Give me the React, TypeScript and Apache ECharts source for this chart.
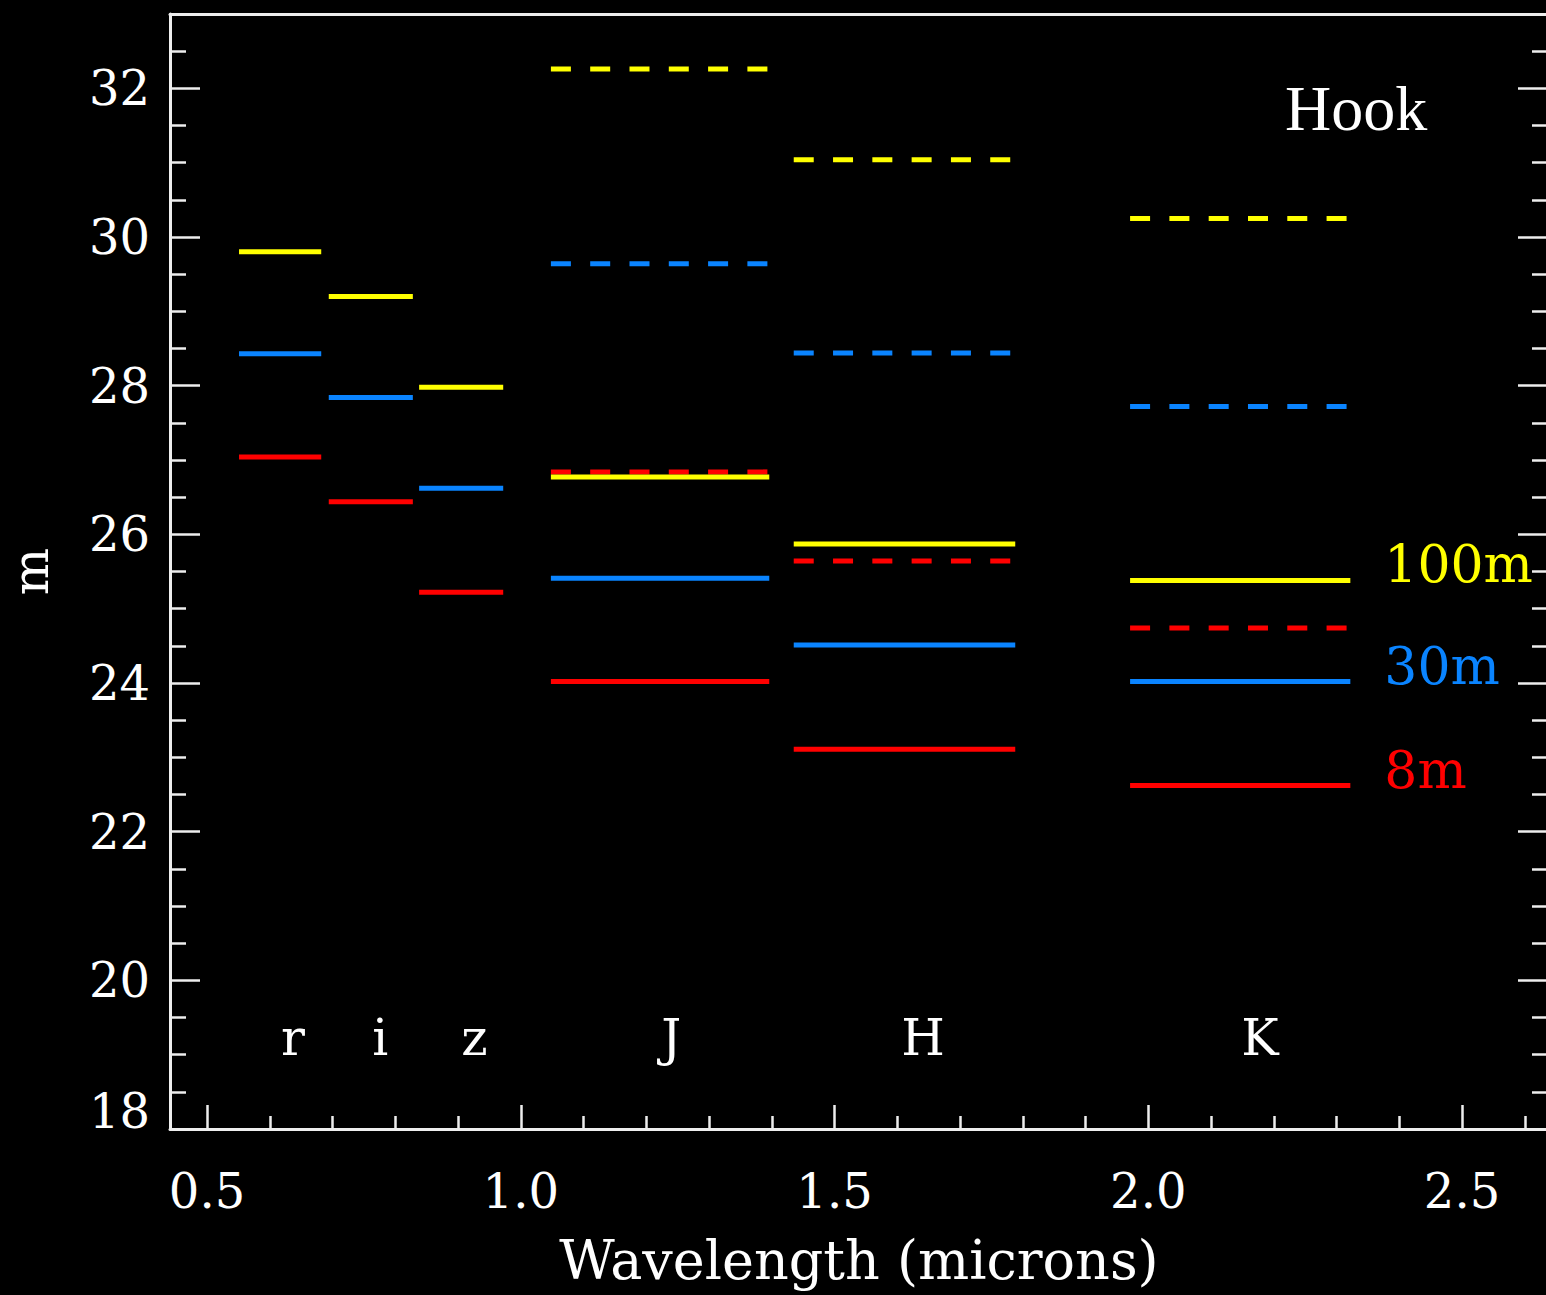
import React, { useEffect, useRef } from 'react';
import * as echarts from 'echarts';

// Photometric bands
const bands = ['r', 'i', 'z', 'J', 'H', 'K'];
const bandStart = [0.551, 0.694, 0.838, 1.048, 1.435, 1.971];
const bandEnd = [0.682, 0.828, 0.972, 1.396, 1.788, 2.322];
const bandLabelX = [0.637, 0.776, 0.926, 1.24, 1.641, 2.178];
const bandLabelY = 19.23;

// Telescopes
const telescopes = ['8m', '30m', '100m'];
const telescopeColors = ['#ff0000', '#0a84ff', '#ffff00'];

// Solid lines (limiting magnitude, one per band)
const solid8m = [27.04, 26.44, 25.22, 24.02, 23.11, 22.62];
const solid30m = [28.43, 27.84, 26.62, 25.41, 24.51, 24.02];
const solid100m = [29.8, 29.2, 27.98, 26.77, 25.87, 25.38];

// Dashed lines (J, H, K only)
const dashed8m = [null, null, null, 26.84, 25.64, 24.74];
const dashed30m = [null, null, null, 29.64, 28.44, 27.72];
const dashed100m = [null, null, null, 32.26, 31.04, 30.25];

// Axis ticks
const xMajorTicks = [0.5, 1.0, 1.5, 2.0, 2.5];
const xMinorTicks = [0.6, 0.7, 0.8, 0.9, 1.1, 1.2, 1.3, 1.4, 1.6, 1.7, 1.8, 1.9, 2.1, 2.2, 2.3, 2.4, 2.6];
const yMajorTicks = [18, 20, 22, 24, 26, 28, 30, 32];
const yMinorTicks = [18.5, 19, 19.5, 20.5, 21, 21.5, 22.5, 23, 23.5, 24.5, 25, 25.5, 26.5, 27, 27.5, 28.5, 29, 29.5, 30.5, 31, 31.5, 32.5];

const X_MIN = 0.441;
const X_MAX = 2.637;
const Y_MIN = 18;
const Y_MAX = 33;

const FONT = 'DejaVu Serif';
const AXIS_COLOR = '#eeeeee';

function buildSeries() {
  const out: any[] = [];
  const dashedSets = [dashed8m, dashed30m, dashed100m];
  const solidSets = [solid8m, solid30m, solid100m];
  const make = (b: number, v: number, t: number, dashed: boolean) => {
    const isEnd = !dashed && b === bands.length - 1;
    const s: any = {
      type: 'line',
      name: telescopes[t] + ' ' + bands[b] + (dashed ? ' dashed' : ''),
      xAxisIndex: 0,
      yAxisIndex: 0,
      data: [
        [bandStart[b], v],
        [bandEnd[b], v],
      ],
      symbol: 'none',
      silent: true,
      lineStyle: {
        color: telescopeColors[t],
        width: 5,
        type: dashed ? [20, 19.3] : 'solid',
        cap: 'butt',
      },
    };
    if (isEnd) {
      s.endLabel = {
        show: true,
        formatter: telescopes[t],
        color: telescopeColors[t],
        fontFamily: FONT,
        fontSize: 52,
        distance: 0,
        offset: [34, -16],
      };
    }
    return s;
  };
  dashedSets.forEach((vals, t) =>
    vals.forEach((v, b) => {
      if (v == null) return;
      out.push(make(b, v as number, t, true));
    })
  );
  solidSets.forEach((vals, t) =>
    vals.forEach((v, b) => {
      out.push(make(b, v, t, false));
    })
  );
  out.push({
    type: 'scatter',
    name: 'bands',
    xAxisIndex: 0,
    yAxisIndex: 0,
    symbolSize: 0,
    silent: true,
    itemStyle: { opacity: 1 },
    data: bands.map((b, i) => ({ name: b, value: [bandLabelX[i], bandLabelY] })),
    label: {
      show: true,
      position: 'inside',
      formatter: '{b}',
      color: '#ffffff',
      opacity: 1,
      fontFamily: FONT,
      fontSize: 50,
    },
  });
  return out;
}

export default function App() {
  const ref = useRef<HTMLDivElement>(null);
  useEffect(() => {
    if (!ref.current) return;
    const chart = echarts.init(ref.current, null, { renderer: 'svg' });
    const tickStyle = { color: AXIS_COLOR, width: 2.5 };
    chart.setOption({
      animation: false,
      backgroundColor: '#000000',
      grid: {
        left: 170,
        top: 14,
        width: 1378,
        height: 1115,
        containLabel: false,
        outerBoundsMode: 'none',
      },
      xAxis: [
        {
          type: 'value',
          position: 'bottom',
          min: X_MIN,
          max: X_MAX,
          axisLine: { show: true, lineStyle: { color: AXIS_COLOR, width: 3 } },
          axisTick: { show: true, inside: true, length: 24, lineStyle: tickStyle, customValues: xMajorTicks },
          axisLabel: {
            show: true,
            customValues: xMajorTicks,
            formatter: (v: number) => v.toFixed(1),
            color: '#ffffff',
            fontFamily: FONT,
            fontSize: 48,
            margin: 38,
          },
          splitLine: { show: false },
          name: 'Wavelength (microns)',
          nameLocation: 'middle',
          nameGap: 104,
          nameTextStyle: { color: '#ffffff', fontFamily: FONT, fontSize: 54 },
        },
        {
          type: 'value',
          position: 'bottom',
          min: X_MIN,
          max: X_MAX,
          axisLine: { show: false },
          axisTick: { show: true, inside: true, length: 13, lineStyle: tickStyle, customValues: xMinorTicks },
          axisLabel: { show: false },
          splitLine: { show: false },
        },
        {
          type: 'value',
          position: 'top',
          min: X_MIN,
          max: X_MAX,
          axisLine: { show: true, lineStyle: { color: AXIS_COLOR, width: 3 } },
          axisTick: { show: false },
          axisLabel: { show: false },
          splitLine: { show: false },
        },
      ],
      yAxis: [
        {
          type: 'value',
          position: 'left',
          min: Y_MIN,
          max: Y_MAX,
          axisLine: { show: true, lineStyle: { color: AXIS_COLOR, width: 3 } },
          axisTick: { show: true, inside: true, length: 30, lineStyle: tickStyle, customValues: yMajorTicks },
          axisLabel: {
            show: true,
            customValues: yMajorTicks,
            formatter: (v: number) => (v === Y_MIN ? '{lift|' + v + '}' : String(v)),
            rich: {
              lift: { padding: [0, 0, 36, 0], color: '#ffffff', fontFamily: FONT, fontSize: 48 },
            },
            color: '#ffffff',
            fontFamily: FONT,
            fontSize: 48,
            margin: 20,
          },
          splitLine: { show: false },
          name: 'm',
          nameLocation: 'middle',
          nameRotate: 90,
          nameGap: 114,
          nameTextStyle: { color: '#ffffff', fontFamily: FONT, fontSize: 50 },
        },
        {
          type: 'value',
          position: 'left',
          min: Y_MIN,
          max: Y_MAX,
          axisLine: { show: false },
          axisTick: { show: true, inside: true, length: 16, lineStyle: tickStyle, customValues: yMinorTicks },
          axisLabel: { show: false },
          splitLine: { show: false },
        },
        {
          type: 'value',
          position: 'right',
          min: Y_MIN,
          max: Y_MAX,
          axisLine: { show: true, lineStyle: { color: AXIS_COLOR, width: 3 } },
          axisTick: { show: true, inside: true, length: 30, lineStyle: tickStyle, customValues: yMajorTicks },
          axisLabel: { show: false },
          splitLine: { show: false },
        },
        {
          type: 'value',
          position: 'right',
          min: Y_MIN,
          max: Y_MAX,
          axisLine: { show: false },
          axisTick: { show: true, inside: true, length: 16, lineStyle: tickStyle, customValues: yMinorTicks },
          axisLabel: { show: false },
          splitLine: { show: false },
        },
      ],
      graphic: [
        {
          type: 'text',
          x: 1285,
          y: 108,
          silent: true,
          style: {
            text: 'Hook',
            fill: '#ffffff',
            fontFamily: 'Liberation Serif',
            fontSize: 64,
            align: 'left',
            verticalAlign: 'middle',
          },
        },
      ],
      series: buildSeries(),
    });
    return () => chart.dispose();
  }, []);
  return (
    <div
      ref={ref}
      style={{ position: 'absolute', left: 0, top: 0, width: 1546, height: 1295 }}
    />
  );
}
